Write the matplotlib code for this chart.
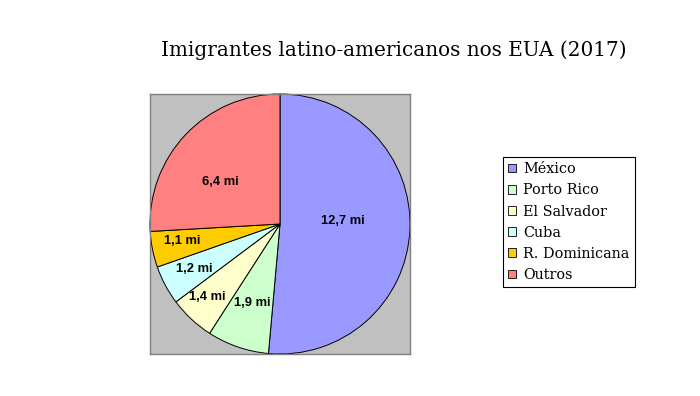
import numpy as np
import matplotlib.pyplot as plt
from matplotlib.patches import Patch

categories = ["México", "Porto Rico", "El Salvador", "Cuba", "R. Dominicana", "Outros"]
values = [12.7, 1.9, 1.4, 1.2, 1.1, 6.4]
value_labels = ["12,7 mi", "1,9 mi", "1,4 mi", "1,2 mi", "1,1 mi", "6,4 mi"]
colors = ["#9999FF", "#CCFFCC", "#FFFFCC", "#CCFFFF", "#FFCC00", "#FF8080"]
# label placement: radius fraction and angle nudge (deg) from wedge middle
label_r = [0.48, 0.645, 0.79, 0.74, 0.765, 0.56]
label_dang = [5, -0.5, -2, -0.5, -1.5, 8]

W, H = 700, 396
fig = plt.figure(figsize=(7, 3.96), dpi=100)

ax = fig.add_axes([150 / W, 1 - 354 / H, 260 / W, 260 / H])
wedges, _ = ax.pie(values, colors=colors, startangle=90, counterclock=False,
                   radius=1, frame=True,
                   wedgeprops=dict(edgecolor="black", linewidth=0.7))
ax.set_facecolor("#C0C0C0")
for s in ax.spines.values():
    s.set_visible(True)
    s.set_edgecolor("#808080")
    s.set_linewidth(1)
ax.set_xlim(-1, 1)
ax.set_ylim(-1, 1)
ax.set_aspect("auto")
ax.set_xticks([])
ax.set_yticks([])

for w, lab, r, da in zip(wedges, value_labels, label_r, label_dang):
    ang = np.deg2rad((w.theta1 + w.theta2) / 2 + da)
    ax.text(r * np.cos(ang), r * np.sin(ang), lab, ha="center", va="center",
            fontsize=9.3, fontweight="bold", family="Liberation Sans")

fig.text(394 / W, 1 - 50 / H, "Imigrantes latino-americanos nos EUA (2017)",
         ha="center", va="center", fontsize=14.4, family="DejaVu Serif")

handles = [Patch(facecolor=c, edgecolor="black", linewidth=0.6) for c in colors]
leg = fig.legend(handles, categories, loc="upper left",
                 bbox_to_anchor=(503 / W, 1 - 157 / H),
                 prop=dict(family="DejaVu Serif", size=10.4),
                 frameon=True, fancybox=False, framealpha=1,
                 handlelength=0.55, handleheight=0.55, handletextpad=0.5,
                 labelspacing=0.5, borderpad=0.35, borderaxespad=0)
leg.get_frame().set_edgecolor("black")
leg.get_frame().set_linewidth(0.8)

fig.savefig("out.png", dpi=100)
